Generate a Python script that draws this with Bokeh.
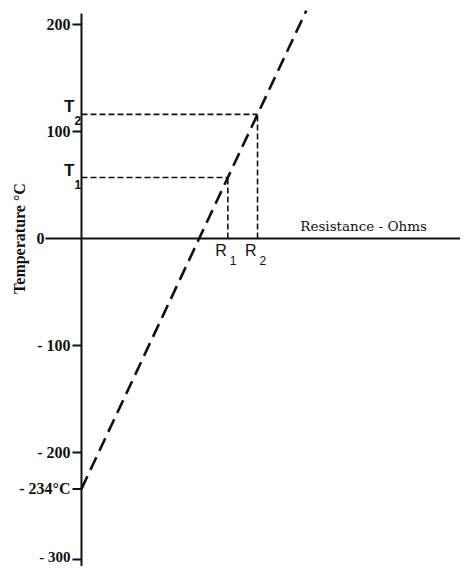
from bokeh.plotting import figure
from bokeh.models import Range1d
from bokeh.core.properties import value
from bokeh.embed import file_html
from bokeh.resources import INLINE

# ---- data ----
tick_T = [200, 100, -100, -200, -234, -300]
tick_labels = ["200", "100", "- 100", "- 200", "- 234°C", "- 300"]
zero_label = "0"
line_R = [0.0, 44.7]          # resistance (arbitrary ohms)
line_T = [-234, 213]          # temperature °C
point_T = [57, 116]           # T1, T2
point_R = [29.1, 35.0]        # R1, R2
point_sub = ["1", "2"]
x_title = "Resistance - Ohms"
y_title = "Temperature °C"

W, H = 460, 566
p = figure(width=W, height=H, output_backend="svg", toolbar_location=None,
           x_range=Range1d(-16.10, -16.10 + W / 5.03),
           y_range=Range1d(222.43 - H / 1.07, 222.43),
           min_border=0)
p.axis.visible = False
p.grid.visible = False
p.outline_line_color = None
p.background_fill_color = "white"

ink = "#111111"
serif = value("Liberation Serif")
dserif = value("DejaVu Serif")
sans = value("Liberation Sans")

# axes lines
p.segment(x0=[0], y0=[-330], x1=[0], y1=[210.3], line_color=ink, line_width=2)
p.segment(x0=[-7.16], y0=[0], x1=[80], y1=[0], line_color=ink, line_width=2)

# ticks
p.segment(x0=[0]*len(tick_T), y0=tick_T, x1=[-1.79]*len(tick_T), y1=tick_T,
          line_color=ink, line_width=2)
p.text(x=[0]*(len(tick_T) - 1), y=tick_T[:-1], text=tick_labels[:-1], x_offset=-11,
       text_align="right", text_baseline="middle", text_font=serif,
       text_font_style="bold", text_font_size="16px", text_color=ink)
p.text(x=[0], y=tick_T[-1:], text=tick_labels[-1:], x_offset=-11, y_offset=-3,
       text_align="right", text_baseline="middle", text_font=serif,
       text_font_style="bold", text_font_size="15px", text_color=ink)
p.text(x=[0], y=[0], text=[zero_label], x_offset=-37, text_align="right",
       text_baseline="middle", text_font=serif, text_font_style="bold",
       text_font_size="16px", text_color=ink)

# main dashed line
p.line(line_R, line_T, line_color=ink, line_width=2.6, line_dash="14 7")

# guide lines
for r, t in zip(point_R, point_T):
    p.line([0, r], [t, t], line_color=ink, line_width=1.6, line_dash="6 3")
    p.line([r, r], [0, t], line_color=ink, line_width=1.6, line_dash="6 3")

# T labels
p.text(x=[0, 0], y=point_T, text=["T", "T"], x_offset=-7, y_offset=2,
       text_align="right", text_baseline="bottom", text_font=sans,
       text_font_style="bold", text_font_size="17px", text_color=ink)
p.text(x=[0, 0], y=point_T, text=point_sub, x_offset=-7, y_offset=11,
       text_align="left", text_baseline="bottom", text_font=sans,
       text_font_style="bold", text_font_size="12px", text_color=ink)

# R labels
p.text(x=point_R, y=[0, 0], text=["R", "R"], x_offset=-1, y_offset=3,
       text_align="right", text_baseline="top", text_font=sans,
       text_font_size="16px", text_color=ink)
p.text(x=point_R, y=[0, 0], text=point_sub, x_offset=2, y_offset=26,
       text_align="left", text_baseline="bottom", text_font=sans,
       text_font_size="12px", text_color=ink)

# titles
p.text(x=[43.5], y=[0], text=[x_title], y_offset=-5, text_align="left",
       text_baseline="bottom", text_font=dserif, text_font_size="13.5px",
       text_color=ink)
p.text(x=[0], y=[0], text=[y_title], x_offset=-62, angle=1.5708,
       angle_units="rad", text_align="center", text_baseline="middle",
       text_font=serif, text_font_style="bold", text_font_size="16px",
       text_color=ink)

open("out.html", "w").write(file_html(p, INLINE))
